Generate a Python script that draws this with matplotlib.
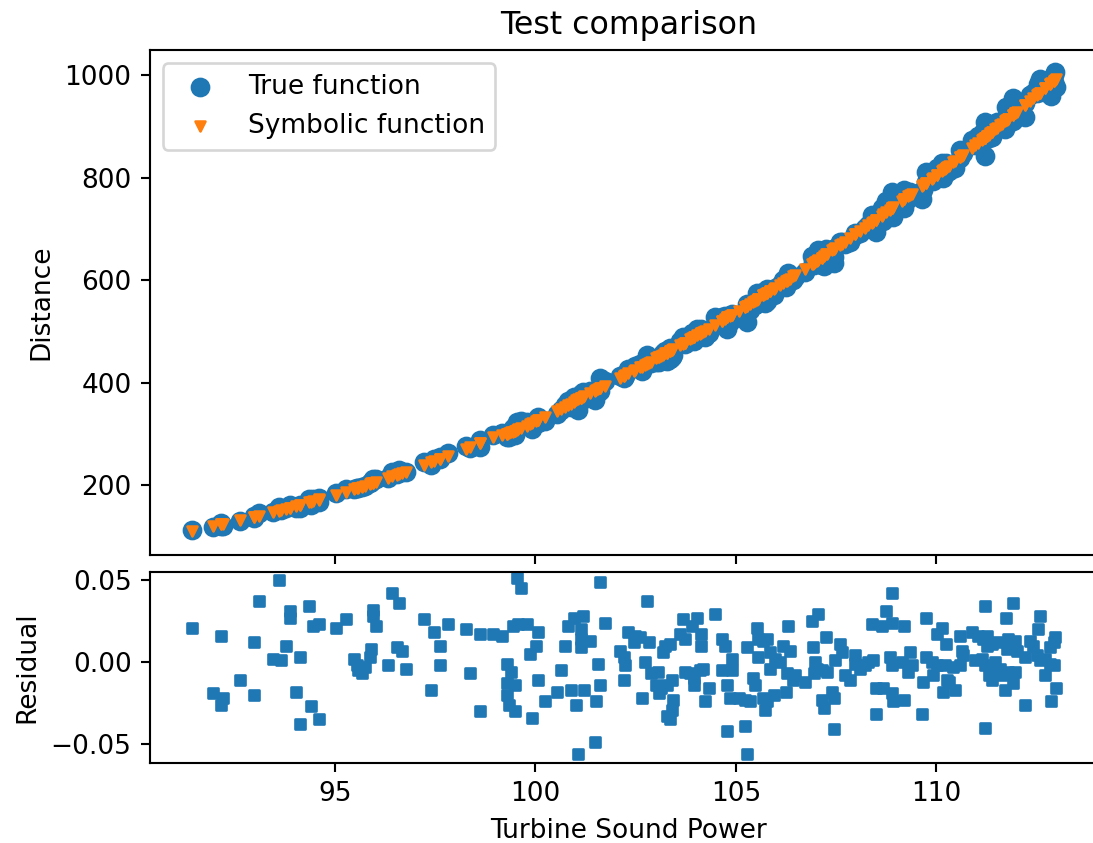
import matplotlib
matplotlib.use("Agg")
import matplotlib.pyplot as plt

# turbine sound power (x)
power = [
    91.42, 91.96, 92.15, 92.15, 92.21, 92.63, 92.97, 92.97, 93.11, 93.45,
    93.61, 93.65, 93.78, 93.88, 93.88, 94.03, 94.13, 94.13, 94.36, 94.40,
    94.46, 94.60, 94.61, 95.02, 95.27, 95.46, 95.54, 95.58, 95.67, 95.75,
    95.86, 95.89, 95.94, 95.94, 96.02, 96.32, 96.42, 96.55, 96.60, 96.68,
    96.76, 97.23, 97.39, 97.48, 97.62, 97.62, 97.81, 98.27, 98.37, 98.62,
    98.62, 98.95, 99.16, 99.28, 99.28, 99.28, 99.35, 99.38, 99.43, 99.49,
    99.49, 99.53, 99.57, 99.63, 99.78, 99.87, 99.92, 100.02, 100.06, 100.06,
    100.24, 100.55, 100.63, 100.74, 100.82, 100.88, 100.97, 101.01, 101.07, 101.13,
    101.13, 101.13, 101.18, 101.21, 101.36, 101.49, 101.51, 101.55, 101.60, 101.60,
    101.74, 102.11, 102.21, 102.21, 102.24, 102.32, 102.45, 102.49, 102.61, 102.65,
    102.74, 102.79, 102.84, 102.88, 103.01, 103.07, 103.09, 103.13, 103.19, 103.24,
    103.28, 103.28, 103.36, 103.36, 103.40, 103.40, 103.43, 103.61, 103.69, 103.73,
    103.73, 103.86, 103.90, 103.96, 103.96, 104.04, 104.11, 104.13, 104.13, 104.19,
    104.23, 104.32, 104.48, 104.65, 104.65, 104.73, 104.79, 104.79, 104.86, 104.90,
    104.90, 105.07, 105.23, 105.23, 105.27, 105.27, 105.36, 105.44, 105.48, 105.52,
    105.56, 105.56, 105.69, 105.69, 105.73, 105.77, 105.77, 105.86, 105.86, 105.96,
    105.98, 106.11, 106.19, 106.26, 106.27, 106.31, 106.35, 106.44, 106.48, 106.73,
    106.90, 106.92, 106.94, 106.98, 107.02, 107.06, 107.15, 107.15, 107.19, 107.25,
    107.27, 107.40, 107.44, 107.44, 107.48, 107.59, 107.65, 107.73, 107.86, 107.98,
    107.98, 108.10, 108.23, 108.31, 108.39, 108.43, 108.50, 108.50, 108.64, 108.68,
    108.75, 108.85, 108.89, 108.89, 108.89, 108.89, 108.93, 109.14, 109.21, 109.21,
    109.31, 109.35, 109.39, 109.64, 109.68, 109.76, 109.76, 109.89, 109.93, 110.01,
    110.01, 110.14, 110.18, 110.22, 110.25, 110.26, 110.31, 110.43, 110.47, 110.60,
    110.60, 110.64, 110.68, 110.89, 110.97, 111.05, 111.14, 111.18, 111.22, 111.22,
    111.22, 111.26, 111.26, 111.31, 111.35, 111.39, 111.39, 111.47, 111.51, 111.60,
    111.64, 111.72, 111.75, 111.76, 111.80, 111.80, 111.93, 111.93, 111.97, 111.97,
    112.01, 112.22, 112.22, 112.34, 112.43, 112.51, 112.55, 112.59, 112.59, 112.72,
    112.72, 112.84, 112.84, 112.86, 112.93, 112.93, 112.97, 113.00,
]

true_dist = [
    113, 118, 125, 120, 121, 130, 140, 135, 145, 147,
    158, 151, 156, 161, 160, 156, 161, 155, 172, 162,
    172, 175, 166, 185, 192, 192, 194, 194, 196, 198,
    203, 205, 211, 210, 211, 214, 226, 222, 230, 226,
    225, 245, 240, 251, 254, 250, 263, 276, 272, 287,
    274, 298, 302, 300, 296, 294, 294, 301, 311, 302,
    297, 323, 316, 325, 323, 321, 310, 327, 332, 322,
    324, 339, 346, 357, 364, 353, 372, 356, 347, 377,
    375, 373, 382, 367, 384, 365, 376, 387, 384, 408,
    403, 412, 414, 408, 413, 426, 428, 432, 436, 422,
    435, 453, 444, 438, 441, 446, 441, 445, 457, 462,
    452, 443, 467, 446, 458, 450, 454, 481, 488, 485,
    475, 481, 497, 483, 481, 505, 493, 504, 501, 497,
    489, 497, 527, 527, 517, 529, 520, 505, 518, 529,
    533, 528, 535, 527, 554, 518, 541, 552, 552, 574,
    572, 566, 577, 557, 555, 582, 560, 581, 576, 571,
    585, 591, 601, 587, 595, 614, 607, 601, 605, 615,
    647, 638, 629, 635, 635, 659, 641, 629, 628, 660,
    647, 646, 645, 633, 663, 675, 675, 670, 675, 692,
    688, 692, 701, 707, 727, 714, 706, 694, 741, 716,
    755, 739, 758, 771, 739, 726, 724, 754, 775, 741,
    759, 771, 767, 758, 776, 811, 792, 798, 794, 819,
    803, 829, 800, 815, 828, 811, 813, 827, 818, 853,
    838, 849, 848, 873, 864, 882, 875, 888, 908, 876,
    843, 890, 895, 877, 883, 899, 879, 894, 908, 898,
    898, 895, 937, 919, 928, 910, 956, 911, 938, 920,
    934, 945, 918, 962, 966, 965, 982, 993, 967, 977,
    967, 982, 992, 960, 987, 1001, 1006, 977,
]

sym_dist = [
    111, 120, 123, 123, 124, 131, 138, 138, 140, 147,
    150, 151, 154, 156, 156, 159, 161, 161, 166, 167,
    168, 171, 172, 181, 187, 192, 194, 195, 197, 199,
    202, 203, 204, 204, 206, 214, 217, 220, 222, 224,
    226, 239, 244, 247, 251, 251, 257, 271, 274, 282,
    282, 293, 297, 300, 300, 300, 302, 303, 304, 306,
    306, 307, 309, 311, 316, 319, 321, 324, 326, 326,
    332, 345, 348, 353, 356, 359, 362, 366, 368, 370,
    370, 370, 372, 373, 379, 384, 385, 387, 389, 389,
    394, 409, 413, 413, 414, 418, 423, 425, 430, 431,
    435, 437, 439, 441, 447, 449, 450, 452, 454, 457,
    458, 458, 462, 462, 463, 463, 465, 473, 476, 478,
    478, 484, 486, 488, 488, 492, 495, 496, 496, 499,
    501, 505, 512, 520, 520, 524, 527, 527, 530, 532,
    532, 540, 548, 548, 549, 549, 554, 558, 560, 562,
    564, 564, 570, 570, 572, 574, 574, 578, 578, 583,
    584, 591, 595, 598, 599, 601, 603, 608, 610, 622,
    631, 632, 633, 635, 637, 640, 644, 644, 646, 650,
    651, 658, 660, 660, 662, 668, 671, 675, 682, 689,
    689, 695, 702, 707, 711, 714, 717, 717, 725, 728,
    732, 737, 740, 740, 740, 740, 742, 754, 758, 758,
    764, 766, 768, 783, 785, 790, 790, 798, 800, 805,
    805, 812, 815, 817, 819, 820, 823, 830, 832, 840,
    840, 843, 845, 858, 863, 868, 873, 876, 878, 878,
    878, 881, 881, 884, 887, 889, 889, 894, 897, 902,
    905, 910, 912, 912, 915, 915, 923, 923, 926, 926,
    928, 942, 942, 950, 956, 961, 963, 966, 966, 975,
    975, 983, 983, 984, 989, 989, 991, 993,
]

residual = [
    0.021, -0.019, 0.016, -0.026, -0.022, -0.011, 0.012, -0.020, 0.037, 0.002,
    0.050, 0.001, 0.010, 0.031, 0.027, -0.018, 0.003, -0.038, 0.034, -0.027,
    0.022, 0.023, -0.035, 0.021, 0.026, 0.002, -0.002, -0.005, -0.007, -0.003,
    0.003, 0.008, 0.032, 0.028, 0.022, -0.002, 0.042, 0.009, 0.036, 0.007,
    -0.004, 0.026, -0.017, 0.018, 0.010, -0.002, 0.023, 0.020, -0.007, 0.017,
    -0.030, 0.017, 0.016, -0.001, -0.013, -0.020, -0.026, -0.006, 0.022, -0.014,
    -0.030, 0.051, 0.023, 0.045, 0.023, 0.005, -0.034, 0.010, 0.018, -0.011,
    -0.024, -0.018, -0.005, 0.010, 0.022, -0.017, 0.027, -0.026, -0.056, 0.020,
    0.014, 0.009, 0.028, -0.017, 0.013, -0.049, -0.024, -0.001, -0.014, 0.049,
    0.024, 0.007, 0.003, -0.011, -0.002, 0.018, 0.012, 0.016, 0.015, -0.022,
    0.000, 0.037, 0.012, -0.007, -0.014, -0.006, -0.019, -0.016, 0.006, 0.010,
    -0.014, -0.033, 0.011, -0.035, -0.011, -0.029, -0.023, 0.017, 0.026, 0.014,
    -0.006, -0.007, 0.022, -0.010, -0.014, 0.027, -0.005, 0.017, 0.010, -0.004,
    -0.024, -0.016, 0.029, 0.014, -0.005, 0.010, -0.014, -0.042, -0.022, -0.005,
    0.002, -0.022, -0.023, -0.039, 0.009, -0.056, -0.024, -0.010, -0.014, 0.021,
    0.014, 0.003, 0.013, -0.022, -0.029, 0.014, -0.024, 0.006, -0.004, -0.020,
    0.002, 0.000, 0.010, -0.018, -0.007, 0.022, 0.007, -0.011, -0.008, -0.012,
    0.025, 0.009, -0.007, 0.000, -0.004, 0.029, -0.005, -0.023, -0.028, 0.015,
    -0.006, -0.018, -0.022, -0.041, 0.001, 0.011, 0.006, -0.008, -0.011, 0.004,
    -0.001, -0.004, -0.002, 0.000, 0.023, 0.001, -0.016, -0.032, 0.022, -0.016,
    0.031, 0.003, 0.024, 0.042, -0.002, -0.019, -0.024, 0.000, 0.022, -0.023,
    -0.006, 0.006, -0.002, -0.032, -0.012, 0.027, 0.003, 0.000, -0.008, 0.017,
    -0.002, 0.021, -0.018, -0.002, 0.011, -0.011, -0.012, -0.003, -0.017, 0.016,
    -0.002, 0.007, 0.004, 0.018, 0.001, 0.016, 0.002, 0.014, 0.034, -0.002,
    -0.040, 0.010, 0.016, -0.008, -0.004, 0.011, -0.011, 0.000, 0.012, -0.004,
    -0.008, -0.017, 0.027, 0.008, 0.014, -0.006, 0.036, -0.013, 0.013, -0.006,
    0.007, 0.003, -0.026, 0.013, 0.010, 0.004, 0.020, 0.028, 0.001, 0.002,
    -0.008, -0.001, 0.009, -0.024, -0.002, 0.012, 0.015, -0.016,
]

DPI = 190
fig = plt.figure(figsize=(1093 / DPI, 843 / DPI), dpi=DPI)
# the right edge of the axes runs past the figure, as in the cropped original
ax = fig.add_axes([150 / 1093, 0.3416, 958 / 1093, 0.599])
ax_res = fig.add_axes([150 / 1093, 0.0949, 958 / 1093, 0.2266], sharex=ax)

ax.scatter(power, true_dist, s=42, color="tab:blue", label="True function")
ax.scatter(power, sym_dist, s=14, marker="v", color="tab:orange", label="Symbolic function")
ax.set_title("Test comparison")
ax.set_ylabel("Distance")
ax.legend(loc="upper left")
ax.tick_params(labelbottom=False)
ax.set_ylim(63.4, 1048.8)

ax_res.scatter(power, residual, s=12, marker="s", color="tab:blue")
ax_res.set_ylabel("Residual")
ax_res.set_xlabel("Turbine Sound Power")
ax_res.set_xlim(90.38, 114.29)
ax_res.set_ylim(-0.0616, 0.0549)

fig.savefig("out.png", dpi=DPI)
